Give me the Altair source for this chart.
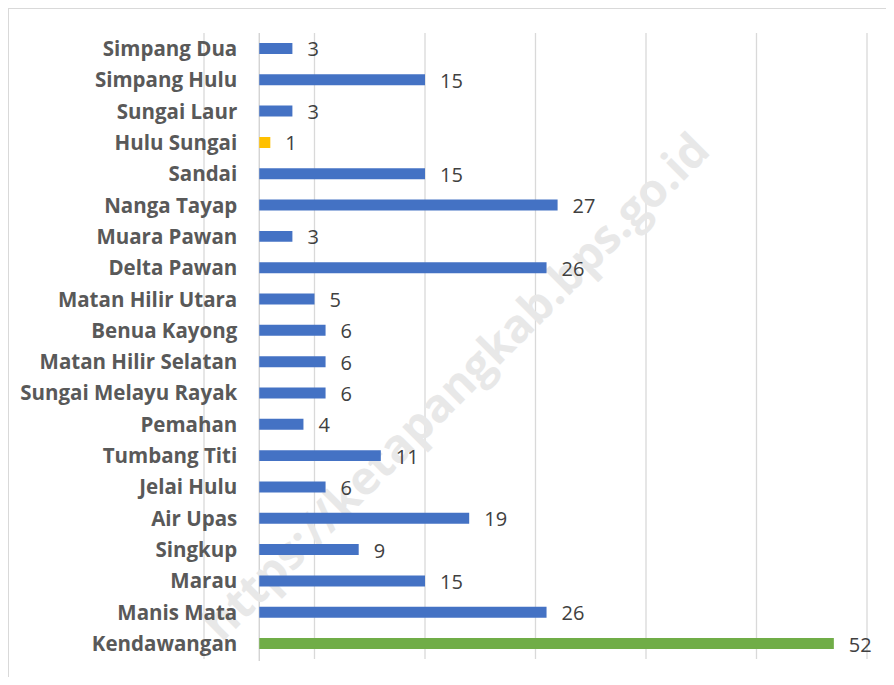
import altair as alt
import pandas as pd

categories = ["Simpang Dua", "Simpang Hulu", "Sungai Laur", "Hulu Sungai", "Sandai",
              "Nanga Tayap", "Muara Pawan", "Delta Pawan", "Matan Hilir Utara",
              "Benua Kayong", "Matan Hilir Selatan", "Sungai Melayu Rayak", "Pemahan",
              "Tumbang Titi", "Jelai Hulu", "Air Upas", "Singkup", "Marau",
              "Manis Mata", "Kendawangan"]
values = [3, 15, 3, 1, 15, 27, 3, 26, 5, 6, 6, 6, 4, 11, 6, 19, 9, 15, 26, 52]
colors = ["#4472C4"] * 20
colors[3] = "#FFC000"
colors[19] = "#70AD47"
grid_values = [-5, 5, 15, 25, 35, 45, 55]
watermark = "https://ketapangkab.bps.go.id"

df = pd.DataFrame({"cat": categories, "val": values, "col": colors})
grid = pd.DataFrame({"g": grid_values})

xs = alt.Scale(domain=[-5, 55], range=[196, 859], nice=False, zero=False)
ys = alt.Scale(domain=categories, range=[24.8, 651.2], paddingInner=0.65, paddingOuter=0.325)

rules = alt.Chart(grid).mark_rule(color="#d9d9d9", strokeWidth=1.3).encode(
    x=alt.X("g:Q", scale=xs, axis=None),
    y=alt.value(25), y2=alt.value(651))

zero_rule = alt.Chart(pd.DataFrame({"z": [0]})).mark_rule(color="#d0d0d0", strokeWidth=1.3).encode(
    x=alt.X("z:Q", scale=xs, axis=None),
    y=alt.value(25), y2=alt.value(653))

border_top = alt.Chart(pd.DataFrame({"b": [0]})).mark_rule(color="#d9d9d9", strokeWidth=2).encode(
    x=alt.value(0), x2=alt.value(878), y=alt.value(0))
border_left = alt.Chart(pd.DataFrame({"b": [0]})).mark_rule(color="#d9d9d9", strokeWidth=2).encode(
    x=alt.value(0), y=alt.value(0), y2=alt.value(669))

wm = alt.Chart(pd.DataFrame({"t": [watermark]})).mark_text(
    angle=315, fontSize=46, fontWeight="bold", font="Open Sans",
    color="#e8e8e8", align="center", baseline="middle").encode(
    text="t:N", x=alt.value(449), y=alt.value(380))

bars = alt.Chart(df).mark_bar().encode(
    y=alt.Y("cat:N", scale=ys, axis=None, sort=None),
    x=alt.X("val:Q", scale=xs, axis=None),
    color=alt.Color("col:N", scale=None))

vlabels = alt.Chart(df).mark_text(align="left", baseline="middle", dx=15, dy=2,
                                  fontSize=20, font="Open Sans", color="#404040").encode(
    y=alt.Y("cat:N", scale=ys, axis=None, sort=None),
    x=alt.X("val:Q", scale=xs, axis=None),
    text="val:Q")

clabels = alt.Chart(df).mark_text(align="right", baseline="middle", dx=-22, dy=1.5,
                                  fontSize=20.5, fontWeight="bold", font="Open Sans", color="#595959").encode(
    y=alt.Y("cat:N", scale=ys, axis=None, sort=None),
    x=alt.datum(0, scale=xs),
    text="cat:N")

chart = alt.layer(rules, zero_rule, wm, bars, vlabels, clabels, border_top, border_left).properties(
    width=878, height=669, autosize=alt.AutoSizeParams(type="none"), padding=0
).configure_view(stroke=None).configure(background="white")

chart.save("out.html", embed_options={"renderer": "svg", "actions": False})
